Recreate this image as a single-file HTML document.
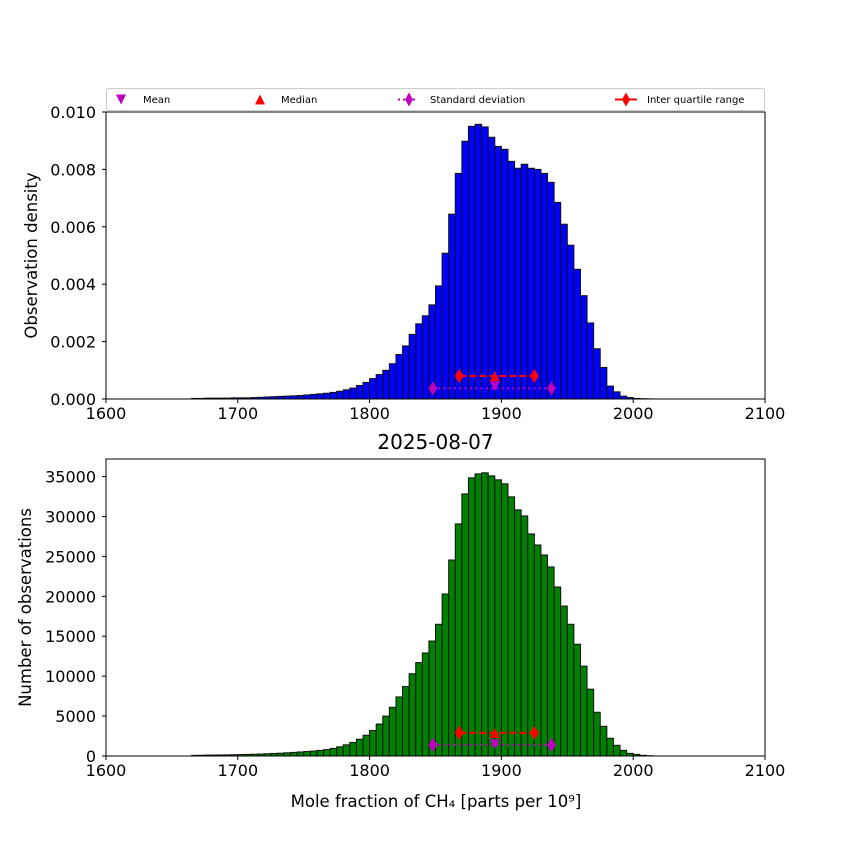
<!DOCTYPE html>
<html><head><meta charset="utf-8">
<style>
html,body{margin:0;padding:0;background:#fff;}
svg{display:block;font-family:"DejaVu Sans","Liberation Sans",sans-serif;}
</style></head>
<body>
<svg id="fig" width="850" height="850" viewBox="0 0 850 850"></svg>
<script>
const binStart = [1665,1670,1675,1680,1685,1690,1695,1700,1705,1710,1715,1720,1725,1730,1735,1740,1745,1750,1755,1760,1765,1770,1775,1780,1785,1790,1795,1800,1805,1810,1815,1820,1825,1830,1835,1840,1845,1850,1855,1860,1865,1870,1875,1880,1885,1890,1895,1900,1905,1910,1915,1920,1925,1930,1935,1940,1945,1950,1955,1960,1965,1970,1975,1980,1985,1990,1995,2000,2005,2010];
const densityValues = [0.00002,0.00002,0.00003,0.00003,0.00003,0.00003,0.00004,0.00004,0.00004,0.00005,0.00006,0.00007,0.00008,0.00009,0.0001,0.00011,0.00012,0.00014,0.00016,0.00018,0.0002,0.00023,0.00027,0.00032,0.00038,0.00047,0.00058,0.00071,0.00085,0.001,0.00123,0.00155,0.00185,0.00225,0.00262,0.0029,0.00328,0.00394,0.00508,0.00644,0.00786,0.00898,0.0095,0.00957,0.00948,0.00912,0.0088,0.0087,0.00828,0.00804,0.00818,0.00804,0.008,0.00786,0.00755,0.00685,0.00609,0.00536,0.00452,0.0036,0.00265,0.00175,0.0011,0.00045,0.00025,0.0001,0.00005,0.00002,0.00001,0.000005];
const countValues = [80,90,110,120,130,140,160,180,200,220,250,280,320,350,400,450,500,560,620,700,800,950,1150,1400,1700,2100,2600,3200,4000,5000,6100,7400,8700,10300,11700,12900,14400,16500,20290,24550,29070,32830,34840,35340,35470,35090,34590,34090,32460,30830,30070,27820,26430,25180,23680,21170,18780,16500,14000,11250,8370,5480,3720,2220,1340,710,330,200,80,30];
const xTicks = [1600,1700,1800,1900,2000,2100];
const densityTicks = [0,0.002,0.004,0.006,0.008,0.010];
const countTicks = [0,5000,10000,15000,20000,25000,30000,35000];
const topMean = [1895, 0.00045];
const topMedian = [1895, 0.0008];
const topStd = [1848, 1938, 0.00037];
const topIqr = [1868, 1925, 0.0008];
const botMean = [1895, 1450];
const botMedian = [1895, 2900];
const botStd = [1848, 1938, 1400];
const botIqr = [1868, 1925, 2900];
const binWidth = 5;

const NS = "http://www.w3.org/2000/svg";
const svg = document.getElementById('fig');
function mk(tag, attrs, parent){
  const e = document.createElementNS(NS, tag);
  for (const k in attrs) e.setAttribute(k, attrs[k]);
  (parent||svg).appendChild(e);
  return e;
}
const X0=106, X1=765;
const xs = v => X0 + (v-1600)/(2100-1600)*(X1-X0);

function panel(name, top, bottom, ymax, values, color, ticks, fmt, ylabel, ylabelX, mean, median, std, iqr){
  const g = mk('g', {});
  
  
  const ys = v => bottom - v/ymax*(bottom-top);
  for (let i=0;i<binStart.length;i++){
    const x0 = xs(binStart[i]), x1 = xs(binStart[i]+binWidth);
    const r = mk('rect', {x:x0, y:ys(values[i]), width:x1-x0, height:bottom-ys(values[i]), fill:color, stroke:'#111', 'stroke-width':1}, g);
    
    
  }
  const sy = ys(std[2]);
  const sl = mk('line', {x1:xs(std[0]), x2:xs(std[1]), y1:sy, y2:sy, stroke:'#bf00bf', 'stroke-width':2, 'stroke-dasharray':'2,3.3'}, g);
  
  
  [std[0],std[1]].forEach(v=>{
    const cx=xs(v);
    const d = mk('polygon', {points:`${cx},${sy-7} ${cx+4.5},${sy} ${cx},${sy+7} ${cx-4.5},${sy}`, fill:'#bf00bf'}, g);
    
    
  });
  const mx=xs(mean[0]), my=ys(mean[1]);
  const mt = mk('polygon', {points:`${mx-5},${my-5} ${mx+5},${my-5} ${mx},${my+5}`, fill:'#bf00bf'}, g);
  
  
  const iy = ys(iqr[2]);
  const il = mk('line', {x1:xs(iqr[0]), x2:xs(iqr[1]), y1:iy, y2:iy, stroke:'red', 'stroke-width':2, 'stroke-dasharray':'7,3'}, g);
  
  
  [iqr[0],iqr[1]].forEach(v=>{
    const cx=xs(v);
    const d = mk('polygon', {points:`${cx},${iy-7} ${cx+4.5},${iy} ${cx},${iy+7} ${cx-4.5},${iy}`, fill:'red'}, g);
    
    
  });
  const dx=xs(median[0]), dy=ys(median[1]);
  const md = mk('polygon', {points:`${dx-5},${dy+5} ${dx+5},${dy+5} ${dx},${dy-5}`, fill:'red'}, g);
  
  
  const fr = mk('rect', {x:X0, y:top, width:X1-X0, height:bottom-top, fill:'none', stroke:'#000', 'stroke-width':1}, g);
  
  
  xTicks.forEach(t=>{
    const x=xs(t);
    mk('line',{x1:x,x2:x,y1:bottom,y2:bottom+4,stroke:'#000'},g);
    const tx = mk('text',{x:x,y:bottom+20,'font-size':16,'text-anchor':'middle'},g);
    tx.textContent = t;
    
    
  });
  ticks.forEach(t=>{
    const y=ys(t);
    mk('line',{x1:X0-4,x2:X0,y1:y,y2:y,stroke:'#000'},g);
    const tx = mk('text',{x:X0-10,y:y+6,'font-size':16,'text-anchor':'end'},g);
    tx.textContent = fmt(t);
    
    
  });
  const cy=(top+bottom)/2;
  const yl = mk('text',{x:ylabelX,y:cy,'font-size':16.5,'text-anchor':'middle',transform:`rotate(-90 ${ylabelX} ${cy})`},g);
  yl.textContent = ylabel;
  
  
}

panel('density-histogram', 112, 399, 0.010, densityValues, '#0000ff', densityTicks, t=>t.toFixed(3), 'Observation density', 37, topMean, topMedian, topStd, topIqr);
panel('count-histogram', 459, 756, 37200, countValues, '#008000', countTicks, t=>String(t), 'Number of observations', 31, botMean, botMedian, botStd, botIqr);

const title = mk('text',{x:435.5,y:449,'font-size':20,'text-anchor':'middle'});
title.textContent = '2025-08-07';


const xl = mk('text',{x:436,y:807,'font-size':16.5,'text-anchor':'middle'});
xl.textContent = 'Mole fraction of CH₄ [parts per 10⁹]';



const lg = mk('g',{});


mk('rect',{x:106.5,y:88.5,width:658,height:22,rx:2,fill:'#fff',stroke:'#ccc'},lg);
const ly = 99.5;
let e = mk('polygon',{points:`116,${ly-5} 126,${ly-5} 121,${ly+5}`,fill:'#bf00bf'},lg);


e = mk('text',{x:143,y:ly+3.5,'font-size':10},lg); e.textContent='Mean';


e = mk('polygon',{points:`255,${ly+5} 265,${ly+5} 260,${ly-5}`,fill:'red'},lg);


e = mk('text',{x:281,y:ly+3.5,'font-size':10},lg); e.textContent='Median';


mk('line',{x1:398,x2:418,y1:ly,y2:ly,stroke:'#bf00bf','stroke-width':2,'stroke-dasharray':'2,3'},lg);
e = mk('polygon',{points:`409,${ly-7} 413,${ly} 409,${ly+7} 405,${ly}`,fill:'#bf00bf'},lg);


e = mk('text',{x:430,y:ly+3.5,'font-size':10},lg); e.textContent='Standard deviation';


mk('line',{x1:615,x2:637,y1:ly,y2:ly,stroke:'red','stroke-width':2},lg);
e = mk('polygon',{points:`626,${ly-7} 630,${ly} 626,${ly+7} 622,${ly}`,fill:'red'},lg);


e = mk('text',{x:647,y:ly+3.5,'font-size':10},lg); e.textContent='Inter quartile range';


</script>
</body></html>
